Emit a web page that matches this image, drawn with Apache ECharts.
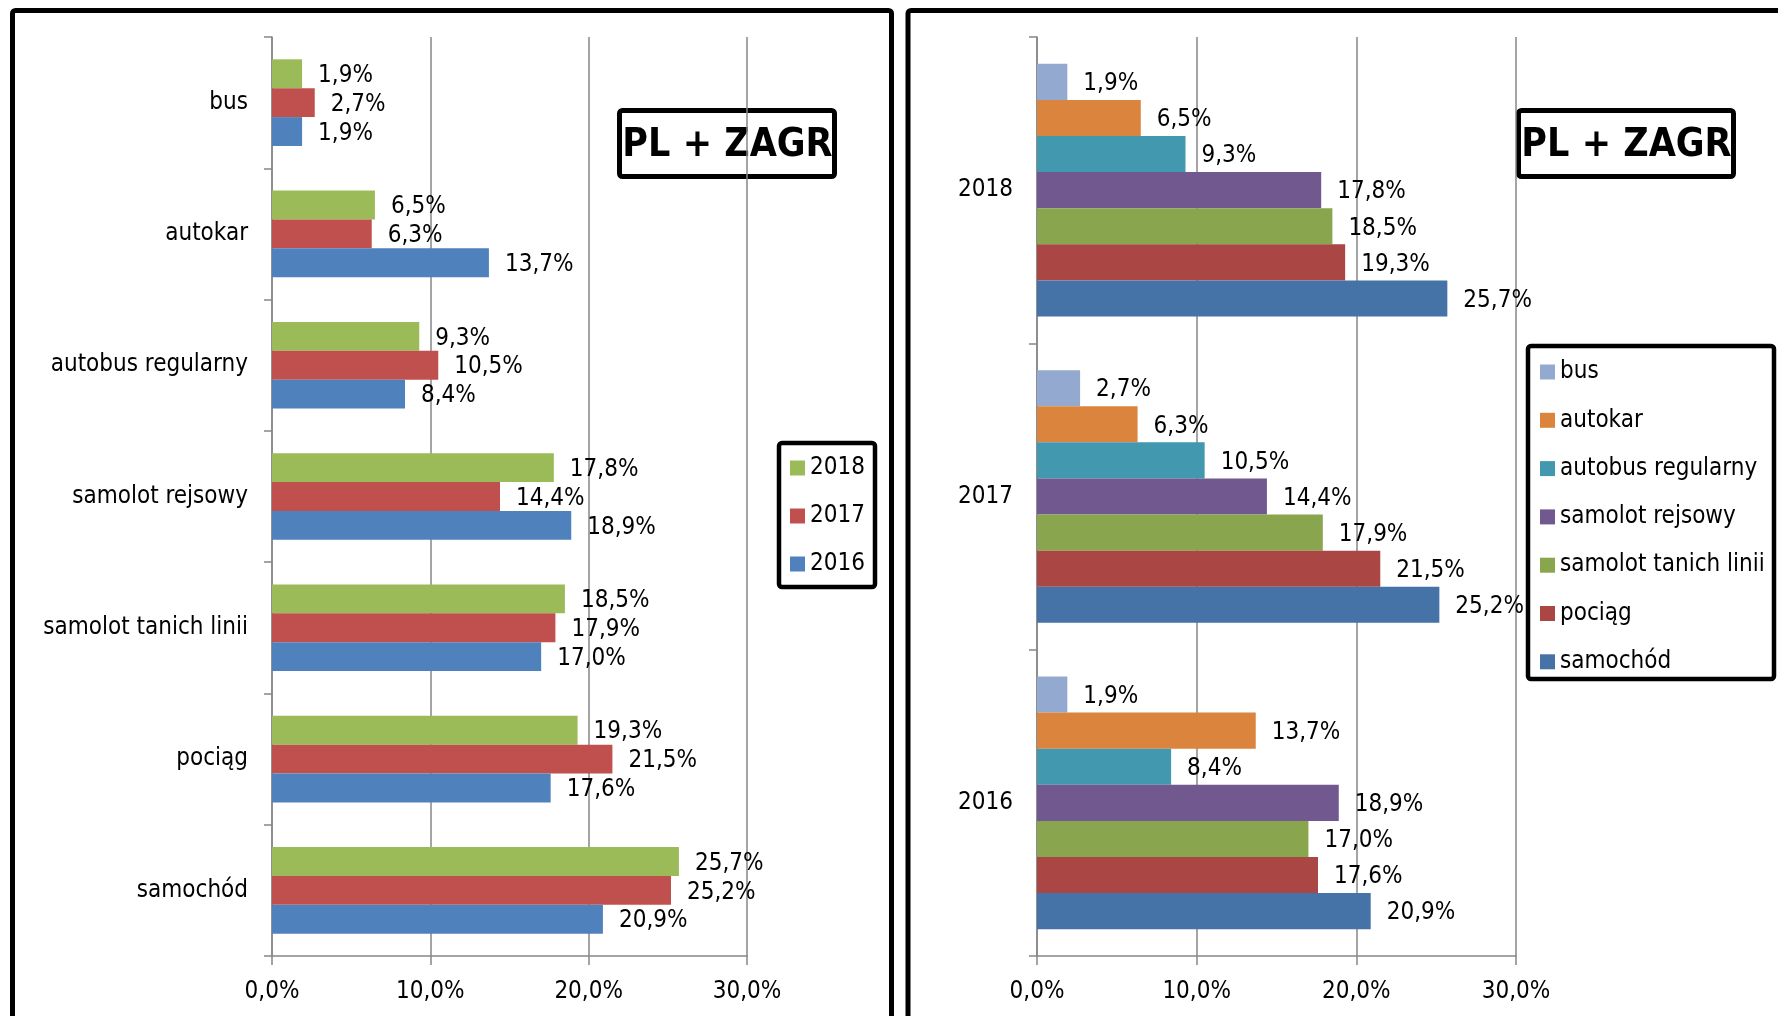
<!DOCTYPE html>
<html><head><meta charset="utf-8">
<script src="https://cdn.jsdelivr.net/npm/echarts@6/dist/echarts.min.js"></script>
<style>html,body{margin:0;padding:0;background:#fff}#c{width:1778px;height:1016px}</style>
</head><body><div id="c"></div><script>
const FONT = "'DejaVu Sans Condensed', 'Liberation Sans Narrow', Roboto, sans-serif";

// transport modes, listed bottom -> top as drawn on the left chart's category axis
const modes = ['samochód', 'pociąg', 'samolot tanich linii', 'samolot rejsowy', 'autobus regularny', 'autokar', 'bus'];
const years = ['2016', '2017', '2018'];          // bottom -> top on right chart
const v2018 = [25.7, 19.3, 18.5, 17.8, 9.3, 6.5, 1.9];
const v2017 = [25.2, 21.5, 17.9, 14.4, 10.5, 6.3, 2.7];
const v2016 = [20.9, 17.6, 17.0, 18.9, 8.4, 13.7, 1.9];
const xTickValues = [0, 10, 20, 30];
const yearColors = {'2018': '#9BBB59', '2017': '#C0504D', '2016': '#4F81BD'};
const modeColors = {'bus': '#93A9CF', 'autokar': '#DB843D', 'autobus regularny': '#4198AF',
  'samolot rejsowy': '#71588F', 'samolot tanich linii': '#89A54E', 'pociąg': '#AA4643', 'samochód': '#4572A7'};
const boxTitle = 'PL + ZAGR';

const byYear = {'2016': v2016, '2017': v2017, '2018': v2018};
const fmt = v => v.toFixed(1).replace('.', ',') + '%';
const GRAY = '#878787';
const FS = 24;

function xAxis(gi) {
  return {
    gridIndex: gi, type: 'value', min: xTickValues[0], max: xTickValues[xTickValues.length - 1], interval: 10,
    axisLine: {show: true, lineStyle: {color: GRAY, width: 1.5}},
    axisTick: {show: true, length: 9, lineStyle: {color: GRAY, width: 1.5}},
    splitLine: {show: true, lineStyle: {color: GRAY, width: 1.5}},
    axisLabel: {formatter: v => fmt(v), fontFamily: FONT, fontSize: FS, color: '#000', margin: 24}
  };
}
function yAxis(gi, cats) {
  return {
    gridIndex: gi, type: 'category', data: cats,
    axisLine: {show: true, lineStyle: {color: GRAY, width: 1.5}},
    axisTick: {show: true, length: 8, lineStyle: {color: GRAY, width: 1.5}},
    axisLabel: {fontFamily: FONT, fontSize: FS, color: '#000', margin: 24}
  };
}
const label = {show: true, position: 'right', distance: 16, offset: [0, 2], color: '#000', fontFamily: FONT, fontSize: FS,
  formatter: p => fmt(p.value)};

const series = [];
['2018', '2017', '2016'].forEach(y => {
  series.push({name: y, type: 'bar', xAxisIndex: 0, yAxisIndex: 0, data: byYear[y],
    itemStyle: {color: yearColors[y]}, barGap: '0%', barCategoryGap: '34%', label: label});
});
['bus', 'autokar', 'autobus regularny', 'samolot rejsowy', 'samolot tanich linii', 'pociąg', 'samochód'].forEach(m => {
  const i = modes.indexOf(m);
  series.push({name: m, type: 'bar', xAxisIndex: 1, yAxisIndex: 1,
    data: years.map(y => byYear[y][i]),
    itemStyle: {color: modeColors[m]}, barGap: '0%', barCategoryGap: '17.5%', label: label});
});

function box(x, y, w, h, lw) {
  return {type: 'rect', shape: {x: x, y: y, width: w, height: h, r: 3},
    style: {fill: 'transparent', stroke: '#000', lineWidth: lw}, z: 10, silent: true};
}
function titleBox(x, y) {
  return {type: 'group', x: x, y: y, z: 20, children: [
    {type: 'rect', shape: {x: 0, y: 0, width: 215, height: 66, r: 3}, style: {fill: '#fff', stroke: '#000', lineWidth: 5}},
    {type: 'text', x: 108, y: 35, style: {text: boxTitle, font: "bold 39px " + FONT, fill: '#000', align: 'center', verticalAlign: 'middle'}}
  ]};
}

const option = {
  animation: false,
  backgroundColor: '#fff',
  grid: [
    {left: 272, right: 1778 - 747, top: 37, bottom: 60, containLabel: false},
    {left: 1037, right: 1778 - 1516, top: 37, bottom: 60, containLabel: false}
  ],
  xAxis: [xAxis(0), xAxis(1)],
  yAxis: [yAxis(0, modes), yAxis(1, years)],
  legend: [
    {data: ['2018', '2017', '2016'], orient: 'vertical', left: 790, top: 456, padding: 0, itemGap: 24,
      itemWidth: 15, itemHeight: 15, icon: 'rect', selectedMode: false,
      textStyle: {fontFamily: FONT, fontSize: FS, color: '#000', lineHeight: 24}},
    {data: ['bus', 'autokar', 'autobus regularny', 'samolot rejsowy', 'samolot tanich linii', 'pociąg', 'samochód'],
      orient: 'vertical', left: 1540, top: 360, padding: 0, itemGap: 24.3,
      itemWidth: 15, itemHeight: 15, icon: 'rect', selectedMode: false,
      textStyle: {fontFamily: FONT, fontSize: FS, color: '#000', lineHeight: 24}}
  ],
  graphic: [
    box(12.5, 10.5, 879, 1040, 5),
    box(908, 10.5, 900, 1040, 5),
    box(779, 443, 96, 144, 4.5),
    box(1528, 346, 246, 333, 4.5),
    titleBox(619.5, 110.5),
    titleBox(1518.5, 110.5)
  ],
  series: series
};
const chart = echarts.init(document.getElementById('c'));
chart.setOption(option);
</script></body></html>
